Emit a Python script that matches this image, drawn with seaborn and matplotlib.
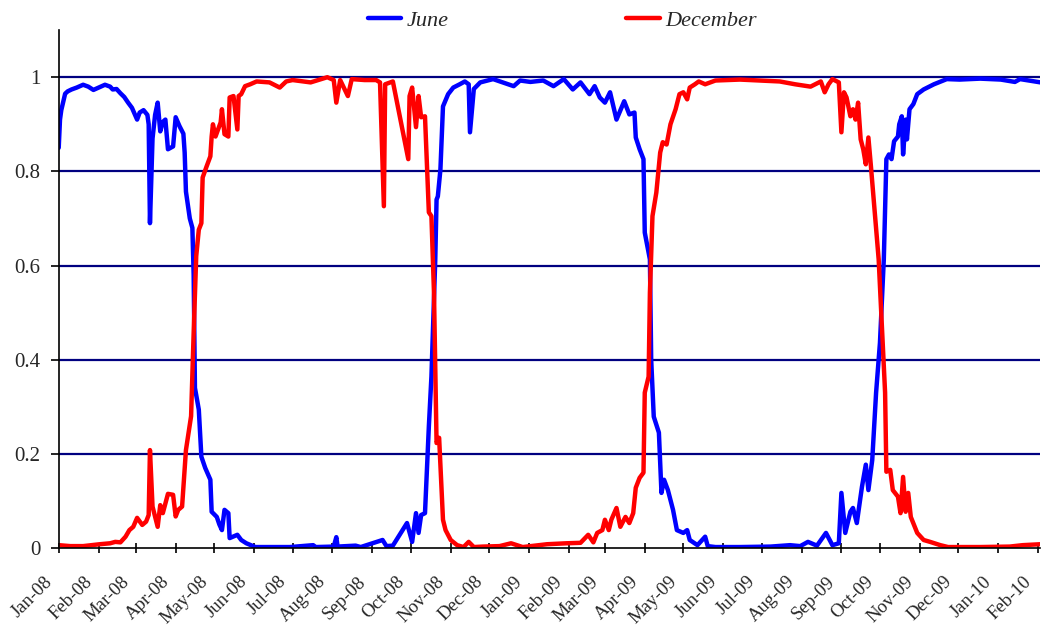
import numpy as np
import pandas as pd
import matplotlib
matplotlib.use("Agg")
import matplotlib.pyplot as plt
import matplotlib.dates as mdates
import matplotlib.transforms as mtransforms
from matplotlib.lines import Line2D
import seaborn as sns

# ---- data (day offsets from 2008-01-01, values) ----
june_days = [0, 1, 2, 5, 7, 10, 14, 19, 23, 27, 31, 36, 40, 42, 45, 48, 51, 54, 57, 61,
             63, 66, 69, 70, 71, 73, 75, 77, 79, 81, 83, 85, 87, 89, 91, 94, 97, 98, 99, 102,
             104, 105, 106, 109, 111, 114, 118, 119, 123, 125, 127, 129, 132, 133, 139, 142, 146, 153, 164, 180,
             198, 200, 214, 216, 217, 231, 235, 252, 255, 260, 271, 275, 278, 280, 282, 285, 288, 290, 293, 294,
             295, 297, 299, 303, 307, 312, 316, 319, 320, 323, 328, 338, 354, 359, 367, 377, 385, 393, 400, 406,
             413, 417, 421, 425, 429, 434, 440, 444, 448, 449, 452, 455, 456, 460, 461, 463, 467, 469, 471, 474,
             478, 481, 486, 489, 491, 497, 503, 505, 511, 530, 554, 569, 577, 583, 590, 597, 602, 607, 609, 612,
             616, 618, 621, 625, 628, 630, 633, 636, 639, 642, 644, 646, 648, 650, 653, 654, 656, 657, 659, 660,
             662, 665, 668, 673, 681, 691, 701, 717, 733, 744, 748, 764]
june_vals = [0.85, 0.91, 0.93, 0.965, 0.970, 0.974, 0.978, 0.984, 0.980, 0.973, 0.978, 0.984, 0.980, 0.974, 0.975, 0.966, 0.958, 0.946, 0.935, 0.91,
             0.925, 0.93, 0.92, 0.90, 0.69, 0.87, 0.92, 0.946, 0.885, 0.905, 0.91, 0.847, 0.850, 0.853, 0.915, 0.896, 0.88, 0.84, 0.757, 0.70,
             0.68, 0.58, 0.34, 0.294, 0.194, 0.17, 0.145, 0.077, 0.066, 0.05, 0.038, 0.081, 0.074, 0.021, 0.028, 0.017, 0.01, 0.002, 0.002, 0.002,
             0.006, 0.002, 0.003, 0.023, 0.003, 0.005, 0.002, 0.017, 0.004, 0.005, 0.053, 0.013, 0.074, 0.032, 0.07, 0.074, 0.258, 0.364, 0.613, 0.74,
             0.747, 0.804, 0.938, 0.964, 0.978, 0.985, 0.991, 0.985, 0.883, 0.975, 0.989, 0.996, 0.981, 0.993, 0.99, 0.993, 0.981, 0.996, 0.974, 0.989,
             0.964, 0.981, 0.957, 0.946, 0.968, 0.91, 0.949, 0.921, 0.925, 0.872, 0.847, 0.826, 0.67, 0.613, 0.40, 0.279, 0.245, 0.117, 0.145, 0.123,
             0.081, 0.038, 0.032, 0.038, 0.017, 0.006, 0.024, 0.004, 0.002, 0.002, 0.003, 0.006, 0.004, 0.013, 0.005, 0.032, 0.006, 0.01, 0.117, 0.032,
             0.077, 0.085, 0.053, 0.13, 0.177, 0.123, 0.187, 0.33, 0.436, 0.613, 0.826, 0.836, 0.826, 0.864, 0.874, 0.90, 0.917, 0.836, 0.91, 0.868,
             0.932, 0.943, 0.964, 0.974, 0.985, 0.996, 0.995, 0.997, 0.995, 0.99, 0.996, 0.989]

dec_days = [0, 9, 19, 32, 40, 44, 48, 52, 55, 58, 61, 65, 68, 70, 71, 73, 77, 79, 81, 85,
            89, 91, 93, 96, 99, 103, 105, 107, 109, 111, 112, 115, 118, 119, 120, 122, 126, 127, 129, 132,
            133, 136, 139, 140, 142, 145, 149, 154, 164, 172, 177, 182, 196, 209, 214, 216, 219, 225, 228, 238,
            247, 250, 253, 254, 260, 272, 273, 275, 278, 280, 282, 285, 288, 290, 292, 294, 296, 299, 301, 305,
            310, 315, 319, 323, 330, 343, 352, 361, 380, 395, 406, 412, 416, 419, 423, 425, 428, 430, 434, 437,
            441, 444, 447, 449, 452, 455, 456, 459, 460, 462, 465, 468, 470, 473, 476, 480, 483, 486, 489, 491,
            495, 498, 503, 511, 530, 546, 561, 573, 585, 593, 596, 599, 602, 607, 609, 611, 613, 616, 618, 620,
            622, 624, 626, 628, 630, 632, 638, 643, 644, 647, 649, 653, 655, 657, 659, 661, 663, 668, 673, 678,
            686, 692, 717, 740, 750, 764]
dec_vals = [0.006, 0.004, 0.004, 0.008, 0.01, 0.013, 0.012, 0.024, 0.038, 0.045, 0.064, 0.049, 0.056, 0.07, 0.208, 0.088, 0.045, 0.091, 0.074, 0.115,
            0.113, 0.067, 0.081, 0.088, 0.208, 0.28, 0.457, 0.62, 0.676, 0.69, 0.787, 0.81, 0.832, 0.874, 0.90, 0.874, 0.904, 0.932, 0.879, 0.874,
            0.957, 0.96, 0.889, 0.96, 0.964, 0.981, 0.985, 0.991, 0.989, 0.978, 0.991, 0.994, 0.989, 1.0, 0.994, 0.946, 0.994, 0.96, 0.996, 0.994,
            0.994, 0.989, 0.726, 0.985, 0.991, 0.826, 0.96, 0.978, 0.894, 0.96, 0.915, 0.917, 0.713, 0.705, 0.542, 0.223, 0.234, 0.06, 0.038, 0.017,
            0.006, 0.002, 0.013, 0.002, 0.003, 0.004, 0.01, 0.002, 0.008, 0.01, 0.011, 0.028, 0.012, 0.032, 0.038, 0.06, 0.038, 0.06, 0.085, 0.045,
            0.066, 0.053, 0.074, 0.128, 0.149, 0.16, 0.33, 0.364, 0.542, 0.705, 0.755, 0.84, 0.862, 0.857, 0.90, 0.932, 0.964, 0.968, 0.953, 0.978,
            0.985, 0.991, 0.985, 0.993, 0.995, 0.993, 0.991, 0.985, 0.98, 0.991, 0.968, 0.985, 0.996, 0.989, 0.883, 0.968, 0.957, 0.917, 0.932, 0.91,
            0.946, 0.868, 0.847, 0.815, 0.872, 0.81, 0.613, 0.33, 0.162, 0.166, 0.123, 0.109, 0.074, 0.151, 0.077, 0.117, 0.066, 0.032, 0.017, 0.013,
            0.006, 0.002, 0.002, 0.003, 0.006, 0.008]

series_names = ["June", "December"]
series_colors = ["#0000FF", "#FF0000"]
y_ticks = [0, 0.2, 0.4, 0.6, 0.8, 1.0]
y_tick_labels = ["0", "0.2", "0.4", "0.6", "0.8", "1"]
x_tick_format = "%b-%y"

start = pd.Timestamp("2008-01-01")
frames = []
for name, days, vals in [("June", june_days, june_vals), ("December", dec_days, dec_vals)]:
    frames.append(pd.DataFrame({
        "date": start + pd.to_timedelta(days, unit="D"),
        "value": vals,
        "series": name,
    }))
df = pd.concat(frames, ignore_index=True)

sns.set_theme(style="white")
plt.rcParams["font.family"] = ["Liberation Serif", "DejaVu Serif"]

fig = plt.figure(figsize=(10.41, 6.28), dpi=100)
ax = fig.add_axes([0.0564, 0.1274, 0.9426, 0.8246])

sns.lineplot(data=df, x="date", y="value", hue="series", hue_order=series_names,
             palette=series_colors, estimator=None, linewidth=3.2, ax=ax, legend=False)

ax.set_ylim(0, 1.1)
ax.set_xlim(start, start + pd.Timedelta(days=763.5))
ax.set_yticks(y_ticks)
ax.set_yticklabels(y_tick_labels, fontsize=15)
for yv in y_ticks[1:]:
    ax.axhline(yv, color="#000080", linewidth=1.6, zorder=0)

ax.xaxis.set_major_locator(mdates.MonthLocator())
ax.set_xlabel("")
ax.set_ylabel("")
for s in ["top", "right"]:
    ax.spines[s].set_visible(False)
for s in ["left", "bottom"]:
    ax.spines[s].set_color("black")
    ax.spines[s].set_linewidth(1.2)
ax.tick_params(axis="y", direction="out", length=6, width=1.2, color="black", pad=7, left=True)
ax.tick_params(axis="x", direction="inout", length=7, width=1.2, color="black", bottom=True,
               labelbottom=False)

# rotated month labels placed at the locator's tick positions
offset = mtransforms.ScaledTranslation(-15 / 100, -25 / 100, fig.dpi_scale_trans)
xmin, xmax = ax.get_xlim()
for t in ax.xaxis.get_major_locator()():
    if xmin - 1e-6 <= t <= xmax + 1e-6:
        ax.text(t, 0, mdates.num2date(t).strftime(x_tick_format),
                transform=ax.get_xaxis_transform() + offset,
                rotation=45, ha="right", va="top", rotation_mode="anchor",
                fontsize=13.5, clip_on=False)

handles = [Line2D([0], [0], color=c, linewidth=3.2) for c in series_colors]
fig.legend(handles, series_names, loc="center", bbox_to_anchor=(0.540, 0.967), ncol=2,
           frameon=False, prop={"family": "Liberation Serif", "style": "italic", "size": 16},
           handlelength=1.5, handletextpad=0.25, columnspacing=8.0)

fig.savefig("out.png", dpi=100)
